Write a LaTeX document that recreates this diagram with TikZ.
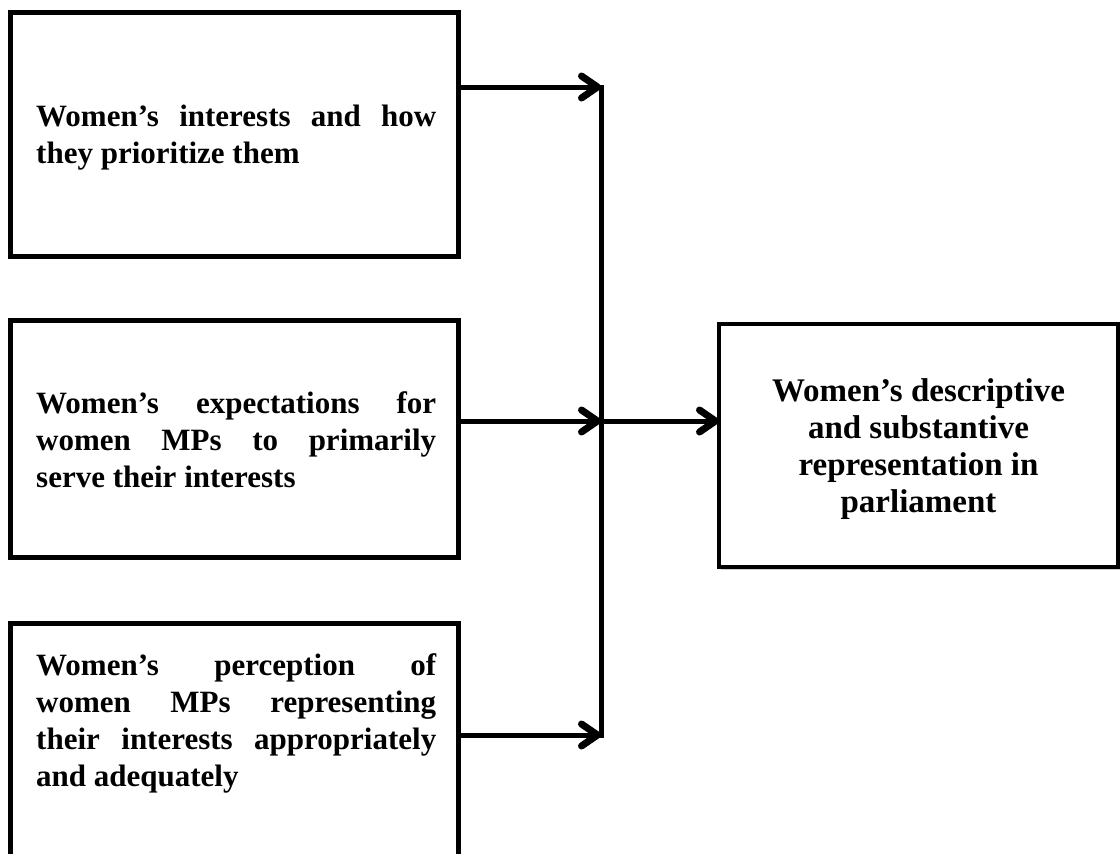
\documentclass[tikz,border=0pt]{standalone}
\usepackage{fontspec}
\setmainfont{Liberation Serif}
\usetikzlibrary{arrows.meta,shadows}
\tikzset{
  box/.style={draw,line width=5pt,fill=white,anchor=north west,inner sep=0pt,outer sep=0pt,
    drop shadow={shadow xshift=1.5pt,shadow yshift=-3pt,fill=black,opacity=.2}},
  txt/.style={anchor=base west,text width=400pt,align=justify,inner sep=0pt,
    font=\fontsize{31}{37}\selectfont\bfseries},
  link/.style={line width=5pt,-{Straight Barb[length=16pt,width=22pt,line width=7pt,round]}}
}
\begin{document}
\begin{tikzpicture}[x=1pt,y=-1pt]
\useasboundingbox (0,0) rectangle (1120,854);
%Box 1
\node[box,minimum width=448pt,minimum height=244pt] (b1) at (10,12) {};
\node[txt] (t1) at (36,126) {Women's interests and how\linebreak they prioritize them};
%Box 2
\node[box,minimum width=448pt,minimum height=237pt] (b2) at (10,320) {};
\node[txt] (t2) at (36,413) {Women's expectations for\linebreak women MPs to primarily\linebreak serve their interests};
%Box 3
\node[box,minimum width=448pt,minimum height=234pt] (b3) at (10,623) {};
\node[txt] (t3) at (36,675) {Women's perception of\linebreak women MPs representing\linebreak their interests appropriately\linebreak and adequately};
%Result box
\node[box,line width=4pt,minimum width=399pt,minimum height=243pt] (out) at (719,324) {};
\node[align=center,inner sep=0pt,font=\fontsize{33}{37}\selectfont\bfseries] (t4) at ([yshift=-4pt]out.center)
  {Women's descriptive\\and substantive\\representation in\\parliament};
%Arrows
\coordinate (j1) at (601,87);
\coordinate (j2) at (601,421);
\coordinate (j3) at (601,735);
\draw[link] (b1.east |- j1) -- (j1);
\draw[link] (b2.east |- j2) -- (j2);
\draw[link] (b3.east |- j3) -- (j3);
\draw[line width=5pt,line cap=rect] (j1) -- (j3);
\draw[link] (j2) -- (j2 -| out.west);
\end{tikzpicture}
\end{document}
